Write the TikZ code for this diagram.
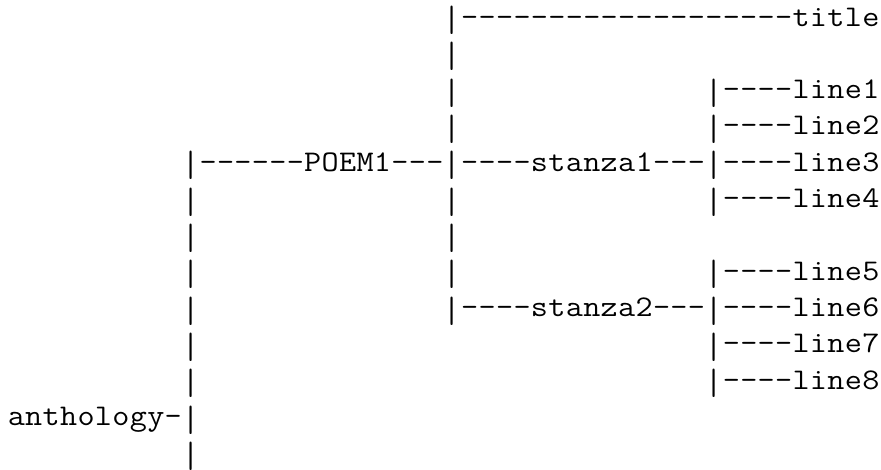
\documentclass[tikz,border=0pt]{standalone}
\usepackage{fontspec}
\usepackage{graphicx}
\setmonofont{Latin Modern Mono}[FakeStretch=1.107]
\makeatletter
\def\barchar{|}
\newcommand\tallbar{\setbox0\hbox{|}\raisebox{-8.5pt}{\resizebox*{\wd0}{28.5pt}{\raisebox{\dp0}{|}}}}
\newcommand\cells[1]{\@tfor\ch:=#1\do{\hbox to 17.44pt{\hss\ifx\ch\barchar\tallbar\else\ch\fi\hss}}}
\makeatother
\begin{document}
\begin{tikzpicture}[x=1pt,y=1pt,
  asc/.style={anchor=base west,inner sep=0pt,outer sep=0pt,
    font=\ttfamily\fontsize{30}{36}\selectfont}]
\useasboundingbox (0,0) rectangle (881,-469);
\def\xo{7.6}\def\cw{17.44}\def\yo{26}\def\rp{36.33}
\newcommand\frag[4]{\node[asc] (#1) at ({\xo+#2*\cw},{-(\yo+#3*\rp)}) {\cells{#4}};}
\frag{t0}{25}{0}{|-------------------title}
\frag{p1}{25}{1}{|}
\frag{p2}{25}{2}{|}
\frag{l1}{40}{2}{|----line1}
\frag{p3}{25}{3}{|}
\frag{l2}{40}{3}{|----line2}
\frag{poem}{10}{4}{|------POEM1---|----stanza1---|----line3}
\frag{p5a}{10}{5}{|}
\frag{p5b}{25}{5}{|}
\frag{l4}{40}{5}{|----line4}
\frag{p6a}{10}{6}{|}
\frag{p6b}{25}{6}{|}
\frag{p7a}{10}{7}{|}
\frag{p7b}{25}{7}{|}
\frag{l5}{40}{7}{|----line5}
\frag{p8}{10}{8}{|}
\frag{st2}{25}{8}{|----stanza2---|----line6}
\frag{p9}{10}{9}{|}
\frag{l7}{40}{9}{|----line7}
\frag{p10}{10}{10}{|}
\frag{l8}{40}{10}{|----line8}
\frag{anth}{0}{11}{anthology-|}
\frag{p12}{10}{12}{|}
\end{tikzpicture}
\end{document}
